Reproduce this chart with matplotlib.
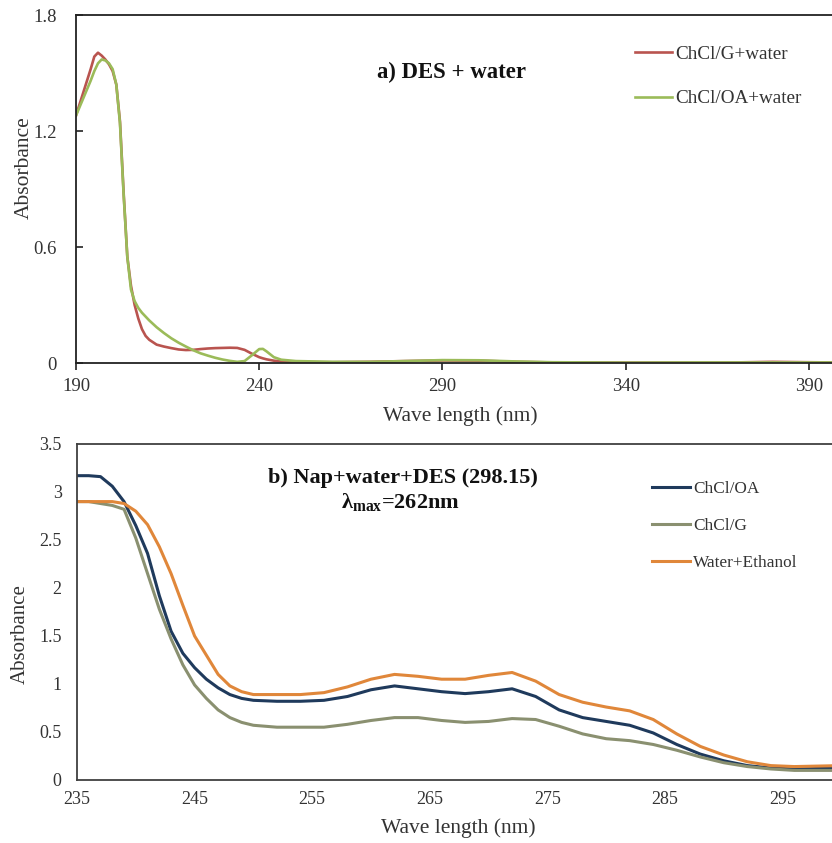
import matplotlib
matplotlib.use("Agg")
import matplotlib.pyplot as plt

plt.rcParams['font.family'] = ['Liberation Serif', 'DejaVu Serif']
plt.rcParams['mathtext.fontset'] = 'custom'
plt.rcParams['mathtext.rm'] = 'Liberation Serif'
plt.rcParams['mathtext.it'] = 'Liberation Serif:italic'
plt.rcParams['mathtext.bf'] = 'Liberation Serif:bold'

# ---------------- data: panel a ----------------
wl_a = [190, 192, 194, 195, 196, 197, 198, 199, 200, 201, 202, 203, 204, 205, 206,
        207, 208, 209, 210, 212, 214, 216, 218, 220, 222, 224, 226, 228, 230, 232,
        234, 236, 238, 240, 241, 242, 244, 246, 250, 260, 270, 280, 290, 300, 310,
        320, 340, 360, 370, 380, 390, 396]
chcl_g_water = [1.28, 1.40, 1.52, 1.585, 1.605, 1.59, 1.57, 1.545, 1.51, 1.44, 1.25, 0.88,
                0.55, 0.40, 0.30, 0.23, 0.175, 0.14, 0.12, 0.095, 0.085, 0.077, 0.070,
                0.067, 0.068, 0.072, 0.075, 0.077, 0.078, 0.079, 0.078, 0.068, 0.048,
                0.030, 0.024, 0.019, 0.012, 0.008, 0.005, 0.004, 0.006, 0.010, 0.013,
                0.012, 0.006, 0.003, 0.002, 0.002, 0.003, 0.006, 0.004, 0.003]
chcl_oa_water = [1.28, 1.37, 1.46, 1.51, 1.55, 1.57, 1.565, 1.55, 1.52, 1.44, 1.24, 0.87,
                 0.55, 0.38, 0.32, 0.285, 0.26, 0.24, 0.22, 0.185, 0.155, 0.128, 0.105,
                 0.085, 0.066, 0.050, 0.038, 0.027, 0.018, 0.011, 0.006, 0.010, 0.040,
                 0.072, 0.073, 0.060, 0.030, 0.017, 0.010, 0.006, 0.006, 0.010, 0.015,
                 0.014, 0.008, 0.004, 0.002, 0.003, 0.003, 0.003, 0.003, 0.003]
labels_a = ['ChCl/G+water', 'ChCl/OA+water']
xticks_a = [190, 240, 290, 340, 390]
yticks_a = [0, 0.6, 1.2, 1.8]
yticklabels_a = ['0', '0.6', '1.2', '1.8']

# ---------------- data: panel b ----------------
wl_b = [235, 236, 237, 238, 239, 240, 241, 242, 243, 244, 245, 246, 247, 248, 249, 250,
        252, 254, 256, 258, 260, 262, 264, 266, 268, 270, 272, 274, 276, 278, 280, 282,
        284, 286, 288, 290, 292, 294, 296, 298, 300]
chcl_oa = [3.17, 3.17, 3.16, 3.06, 2.90, 2.65, 2.36, 1.92, 1.55, 1.32, 1.17, 1.05, 0.96,
           0.89, 0.85, 0.83, 0.82, 0.82, 0.83, 0.87, 0.94, 0.98, 0.95, 0.92, 0.90, 0.92,
           0.95, 0.87, 0.73, 0.65, 0.61, 0.57, 0.49, 0.37, 0.27, 0.20, 0.15, 0.125, 0.115,
           0.12, 0.13]
chcl_g = [2.90, 2.90, 2.88, 2.86, 2.82, 2.52, 2.15, 1.78, 1.47, 1.20, 0.99, 0.85, 0.73,
          0.65, 0.60, 0.57, 0.55, 0.55, 0.55, 0.58, 0.62, 0.65, 0.65, 0.62, 0.60, 0.61,
          0.64, 0.63, 0.56, 0.48, 0.43, 0.41, 0.37, 0.31, 0.24, 0.18, 0.14, 0.115, 0.10,
          0.10, 0.10]
water_ethanol = [2.90, 2.90, 2.90, 2.90, 2.88, 2.80, 2.66, 2.43, 2.15, 1.82, 1.50, 1.30,
                 1.10, 0.98, 0.92, 0.89, 0.89, 0.89, 0.91, 0.97, 1.05, 1.10, 1.08, 1.05,
                 1.05, 1.09, 1.12, 1.03, 0.89, 0.81, 0.76, 0.72, 0.63, 0.48, 0.35, 0.26,
                 0.19, 0.15, 0.14, 0.145, 0.15]
labels_b = ['ChCl/OA', 'ChCl/G', 'Water+Ethanol']
xticks_b = [235, 245, 255, 265, 275, 285, 295]
yticks_b = [0, 0.5, 1, 1.5, 2, 2.5, 3, 3.5]
yticklabels_b = ['0', '0.5', '1', '1.5', '2', '2.5', '3', '3.5']

W, H = 832, 843
fig = plt.figure(figsize=(W / 100, H / 100), dpi=100)

# ---------------- panel a ----------------
L, R, T, B = 76, 832, 15, 363
axa = fig.add_axes([L / W, 1 - B / H, (R - L) / W, (B - T) / H])
axa.plot(wl_a, chcl_g_water, color='#B9544F', lw=1.9, label=labels_a[0],
         solid_joinstyle='round')
axa.plot(wl_a, chcl_oa_water, color='#9BBB59', lw=1.9, label=labels_a[1],
         solid_joinstyle='round')
axa.set_xlim(190, 396.3)
axa.set_ylim(0, 1.8)
axa.set_xticks(xticks_a)
axa.set_yticks(yticks_a)
axa.set_yticklabels(yticklabels_a)
axa.spines['right'].set_visible(False)
for s in ['left', 'top', 'bottom']:
    axa.spines[s].set_color('#222222')
    axa.spines[s].set_linewidth(1.3)
axa.tick_params(axis='x', direction='out', length=5, width=1.2, pad=6, labelsize=13.5,
                colors='#222222', labelcolor='#333333')
axa.tick_params(axis='y', direction='in', length=5, width=1.2, pad=14, labelsize=13.5,
                colors='#222222', labelcolor='#333333')
axa.text(0.497, 0.836, 'a) DES + water', transform=axa.transAxes, ha='center',
         va='center', fontsize=16.4, fontweight='bold', color='#111111')
axa.text(-0.069, 0.56, 'Absorbance', transform=axa.transAxes, rotation=90,
         ha='center', va='center', fontsize=15.5, color='#333333')
axa.text(0.509, -0.152, 'Wave length (nm)', transform=axa.transAxes, ha='center',
         va='center', fontsize=15.5, color='#333333')
leg = axa.legend(loc='upper left', bbox_to_anchor=(0.739, 0.912), frameon=False,
                 fontsize=13.8, handlelength=1.95, handletextpad=0.15,
                 labelspacing=1.4, borderpad=0, borderaxespad=0)
for t in leg.get_texts():
    t.set_color('#333333')

# ---------------- panel b ----------------
L, R, T, B = 77, 832, 444, 780
axb = fig.add_axes([L / W, 1 - B / H, (R - L) / W, (B - T) / H])
axb.plot(wl_b, chcl_oa, color='#1F3A5C', lw=2.2, label=labels_b[0], solid_joinstyle='round')
axb.plot(wl_b, chcl_g, color='#8A9070', lw=2.2, label=labels_b[1], solid_joinstyle='round')
axb.plot(wl_b, water_ethanol, color='#E0873A', lw=2.2, label=labels_b[2],
         solid_joinstyle='round')
axb.set_xlim(235, 299.2)
axb.set_ylim(0, 3.5)
axb.set_xticks(xticks_b)
axb.set_yticks(yticks_b)
axb.set_yticklabels(yticklabels_b)
axb.spines['right'].set_visible(False)
for s in ['left', 'top', 'bottom']:
    axb.spines[s].set_color('#404040')
    axb.spines[s].set_linewidth(1.3)
axb.tick_params(axis='both', length=0, labelsize=13, labelcolor='#333333')
axb.tick_params(axis='x', pad=8)
axb.tick_params(axis='y', pad=11)
axb.text(0.432, 0.899, 'b) Nap+water+DES (298.15)', transform=axb.transAxes,
         ha='center', va='center', fontsize=16, fontweight='bold', color='#111111')
axb.text(0.429, 0.827, r'$\mathbf{\lambda_{max}}$=262nm', transform=axb.transAxes,
         ha='center', va='center', fontsize=16, fontweight='bold', color='#111111')
axb.text(-0.0755, 0.435, 'Absorbance', transform=axb.transAxes, rotation=90,
         ha='center', va='center', fontsize=15, color='#333333')
axb.text(0.505, -0.143, 'Wave length (nm)', transform=axb.transAxes, ha='center',
         va='center', fontsize=15.5, color='#333333')
leg = axb.legend(loc='upper left', bbox_to_anchor=(0.762, 0.889), frameon=False,
                 fontsize=12.4, handlelength=2.2, handletextpad=0.15,
                 labelspacing=1.2, borderpad=0, borderaxespad=0)
for t in leg.get_texts():
    t.set_color('#333333')

fig.savefig('out.png', dpi=100)
